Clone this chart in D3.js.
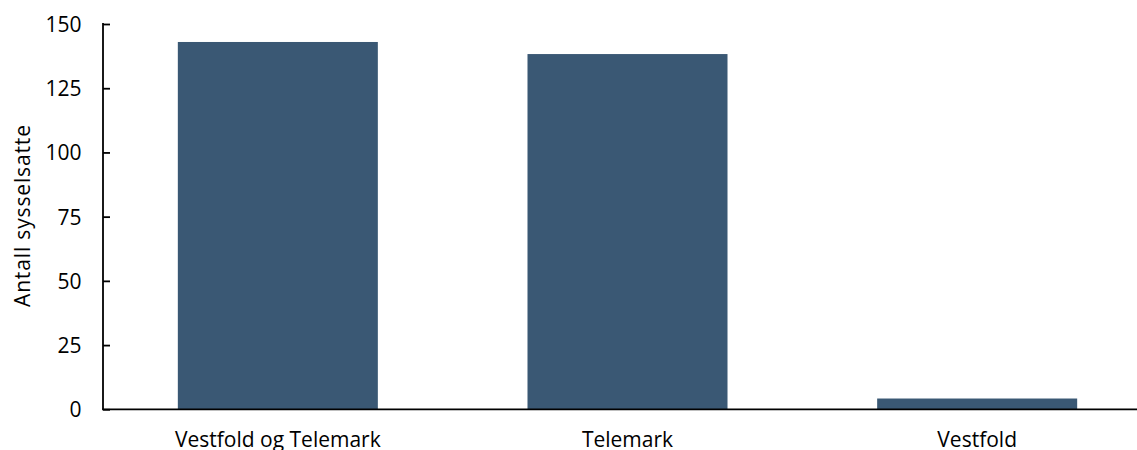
<!DOCTYPE html>
<html><head><meta charset="utf-8">
<script src="https://cdn.jsdelivr.net/npm/d3@7"></script>
<style>body{margin:0;background:#fff}svg{display:block}text{font-family:"Open Sans",sans-serif;fill:#000}</style>
</head><body>
<svg id="c" width="1137" height="450"></svg>
<script>
const categories = ["Vestfold og Telemark", "Telemark", "Vestfold"];
const values = [143, 138.3, 4.2];
const yTicks = [0, 25, 50, 75, 100, 125, 150];
const yTitle = "Antall sysselsatte";

const svg = d3.select("#c");
const x0 = 103, yBottom = 409.3, yTop = 24;
const x = d3.scaleBand().domain(categories).range([x0, 1152]).paddingInner(0.428).paddingOuter(0.214);
const y = d3.scaleLinear().domain([0, 150]).range([yBottom, yTop]);

svg.selectAll("rect.bar").data(values).enter().append("rect")
  .attr("class", "bar")
  .attr("x", (d, i) => x(categories[i]))
  .attr("width", x.bandwidth())
  .attr("y", d => y(d))
  .attr("height", d => y(0) - y(d))
  .attr("fill", "#3a5874");

// y axis
const yAxis = d3.axisRight(y).tickValues(yTicks).tickSize(7).tickFormat(d3.format("d"));
const ga = svg.append("g").attr("transform", `translate(${x0},0)`).call(yAxis);
ga.select(".domain").remove();
ga.selectAll(".tick line").attr("stroke", "#000").attr("stroke-width", 1.8);
ga.selectAll(".tick text").attr("x", -21.5).attr("text-anchor", "end").attr("dy", "0.36em")
  .style("font-size", "21px").attr("fill", "#000");
svg.append("line").attr("x1", x0).attr("x2", x0).attr("y1", yTop - 0.9).attr("y2", yBottom)
  .attr("stroke", "#000").attr("stroke-width", 1.8);

// x axis
svg.append("line").attr("x1", x0 - 0.9).attr("x2", 1137).attr("y1", yBottom).attr("y2", yBottom)
  .attr("stroke", "#000").attr("stroke-width", 1.8);
const xAxis = d3.axisBottom(x).tickSize(0);
const gx = svg.append("g").attr("transform", `translate(0,${yBottom})`).call(xAxis);
gx.select(".domain").remove();
gx.selectAll(".tick text").attr("y", 38).attr("dy", 0).style("font-size", "21px").attr("fill", "#000");

svg.append("text").attr("transform", "translate(29.5,216) rotate(-90)")
  .attr("text-anchor", "middle").style("font-size", "21px")
  .attr("textLength", 182).attr("lengthAdjust", "spacing").text(yTitle);
</script>
</body></html>
